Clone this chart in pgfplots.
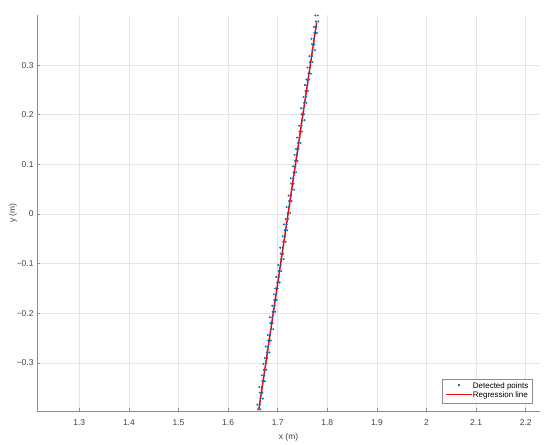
\documentclass[border=0pt]{standalone}
\usepackage{fontspec}
\setmainfont{Liberation Sans}
\usepackage{pgfplots}
\pgfplotsset{compat=1.18}
\definecolor{ptBlue}{RGB}{0,114,189}
\definecolor{regRed}{RGB}{255,0,0}
\definecolor{axGray}{RGB}{140,140,140}
\definecolor{lblGray}{RGB}{64,64,64}
\definecolor{gridGray}{RGB}{228,228,228}

\begin{document}
\begin{tikzpicture}
\begin{axis}[
    scale only axis,
    width=503bp, height=396bp,
    xmin=1.2147, xmax=2.2288,
    ymin=-0.397, ymax=0.401,
    axis x line*=bottom, axis y line*=left,
    axis line style={axGray, line width=0.6pt},
    xtick={1.3,1.4,1.5,1.6,1.7,1.8,1.9,2.0,2.1,2.2},
    xticklabels={1.3,1.4,1.5,1.6,1.7,1.8,1.9,2,2.1,2.2},
    ytick={-0.3,-0.2,-0.1,0,0.1,0.2,0.3},
    yticklabels={−0.3,−0.2,−0.1,0,0.1,0.2,0.3},
    tick align=inside,
    major tick length=3bp,
    tick style={axGray, line width=0.5pt},
    tick label style={font=\fontsize{8.5}{10}\selectfont, text=lblGray},
    xticklabel style={yshift=-5bp},
    label style={font=\fontsize{8.5}{10}\selectfont, text=lblGray},
    xlabel={x (m)}, ylabel={y (m)},
    xlabel style={yshift=-1bp},
    ylabel style={yshift=-7bp},
    grid=major,
    major grid style={gridGray, line width=0.5pt},
    legend style={at={(1,0)}, anchor=south east, xshift=-8bp, yshift=8bp,
        draw=axGray, fill=white, font=\fontsize{8}{9}\selectfont,
        inner sep=1.5pt, row sep=-1.5pt},
    legend cell align=left,
]
\addplot[only marks, mark=*, mark size=0.8pt, color=ptBlue,
    legend image code/.code={}] coordinates {
(1.776,0.400) (1.781,0.400)
(1.777,0.388) (1.782,0.388)
(1.773,0.377) (1.778,0.377)
(1.774,0.365) (1.779,0.365)
(1.768,0.353) (1.773,0.353)
(1.769,0.342) (1.774,0.342)
(1.770,0.330) (1.775,0.330)
(1.764,0.318) (1.769,0.318)
(1.765,0.306) (1.770,0.306)
(1.760,0.295) (1.765,0.295)
(1.762,0.283) (1.767,0.283)
(1.758,0.271) (1.763,0.271)
(1.755,0.260) (1.760,0.260)
(1.756,0.248) (1.761,0.248)
(1.752,0.236) (1.757,0.236)
(1.753,0.224) (1.758,0.224)
(1.747,0.213) (1.752,0.213)
(1.748,0.201) (1.753,0.201)
(1.749,0.189) (1.754,0.189)
(1.743,0.178) (1.748,0.178)
(1.744,0.166) (1.749,0.166)
(1.739,0.154) (1.744,0.154)
(1.741,0.143) (1.746,0.143)
(1.737,0.131) (1.742,0.131)
(1.734,0.119) (1.739,0.119)
(1.735,0.107) (1.740,0.107)
(1.731,0.096) (1.736,0.096)
(1.732,0.084) (1.737,0.084)
(1.726,0.072) (1.731,0.072)
(1.727,0.061) (1.732,0.061)
(1.728,0.049) (1.733,0.049)
(1.722,0.037) (1.727,0.037)
(1.723,0.026) (1.728,0.026)
(1.718,0.014) (1.723,0.014)
(1.720,0.002) (1.725,0.002)
(1.716,-0.010) (1.721,-0.010)
(1.713,-0.021) (1.718,-0.021)
(1.714,-0.033) (1.719,-0.033)
(1.710,-0.045) (1.715,-0.045)
(1.711,-0.056) (1.716,-0.056)
(1.705,-0.068) (1.710,-0.068)
(1.706,-0.080) (1.711,-0.080)
(1.707,-0.091) (1.712,-0.091)
(1.701,-0.103) (1.706,-0.103)
(1.702,-0.115) (1.707,-0.115)
(1.697,-0.127) (1.702,-0.127)
(1.699,-0.138) (1.704,-0.138)
(1.695,-0.150) (1.700,-0.150)
(1.692,-0.162) (1.697,-0.162)
(1.693,-0.173) (1.698,-0.173)
(1.689,-0.185) (1.694,-0.185)
(1.690,-0.197) (1.695,-0.197)
(1.684,-0.208) (1.689,-0.208)
(1.685,-0.220) (1.690,-0.220)
(1.686,-0.232) (1.691,-0.232)
(1.680,-0.244) (1.685,-0.244)
(1.681,-0.255) (1.686,-0.255)
(1.676,-0.267) (1.681,-0.267)
(1.678,-0.279) (1.683,-0.279)
(1.674,-0.290) (1.679,-0.290)
(1.671,-0.302) (1.676,-0.302)
(1.672,-0.314) (1.677,-0.314)
(1.668,-0.325) (1.673,-0.325)
(1.669,-0.337) (1.674,-0.337)
(1.663,-0.349) (1.668,-0.349)
(1.664,-0.360) (1.669,-0.360)
(1.665,-0.372) (1.670,-0.372)
(1.659,-0.384) (1.664,-0.384)
(1.660,-0.394) (1.665,-0.394)
};
\addlegendentry{\makebox[0.9cm]{\textcolor{ptBlue}{\rule[0.25em]{1.8pt}{1.8pt}}}\,Detected points}
\addplot[color=red, line width=1.5pt, no marks,
    legend image code/.code={}] coordinates {
(1.6620,-0.394) (1.7785,0.386)
};
\addlegendentry{\textcolor{regRed}{\rule[0.3em]{0.9cm}{1.3pt}}\,Regression line}
\end{axis}
\path (current axis.south west) ++(-37bp,-34bp) rectangle ++(550bp,445bp);
\end{tikzpicture}
\end{document}
